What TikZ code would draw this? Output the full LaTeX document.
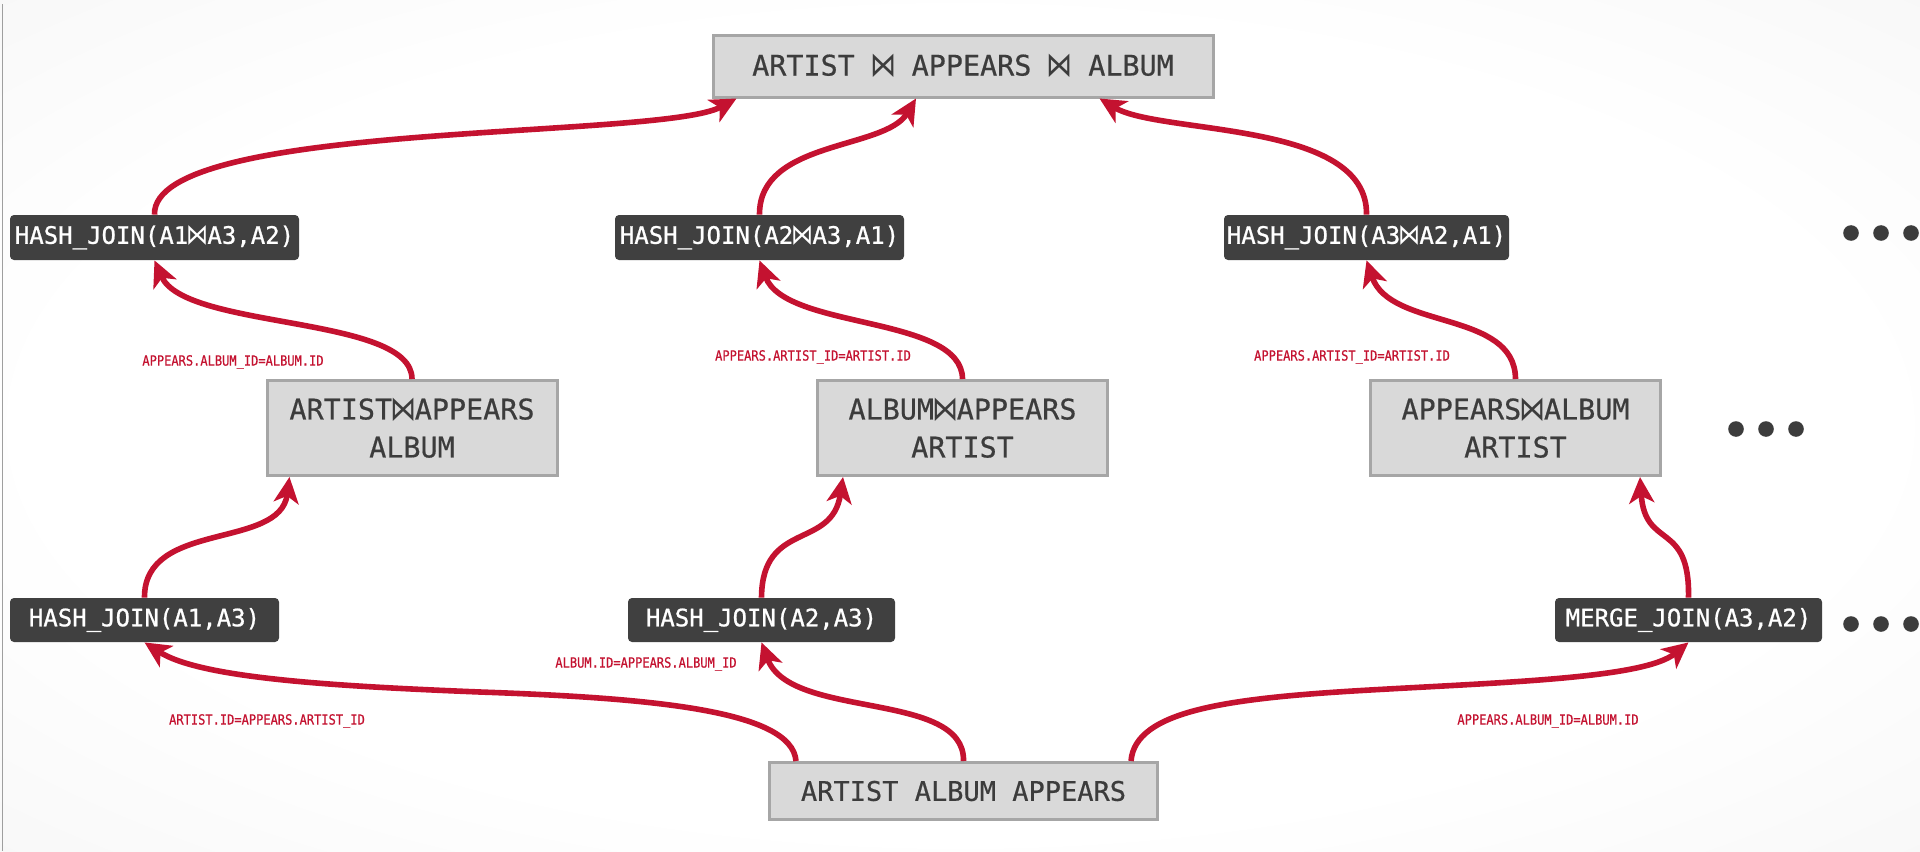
\documentclass[tikz,border=0pt]{standalone}
\usepackage{fontspec}
\usepackage{graphicx}
\usetikzlibrary{arrows.meta,calc}

\newfontfamily\monof[FakeBold=0.5]{DejaVu Sans Mono}
\newfontfamily\opf[FakeBold=0.9]{DejaVu Sans Mono}
\newfontfamily\lblf[FakeStretch=0.86,FakeBold=0.6]{DejaVu Sans Mono}
\newfontfamily\symf{DejaVu Sans}
% join symbol, sized to roughly one monospace cell at cap height
\newcommand\bt{{\symf\kern-0.06em\raisebox{-0.04em}{\scalebox{0.92}[1.2]{⋈}}\kern-0.06em}}

\definecolor{cmured}{HTML}{C41230}
\definecolor{boxgray}{HTML}{D9D9D9}
\definecolor{boxline}{HTML}{A6A6A6}
\definecolor{inkgray}{HTML}{3C3C3C}
\definecolor{darkbox}{HTML}{404040}

\pgfdeclareradialshading{pagebg}{\pgfpoint{0bp}{0bp}}{%
  color(0bp)=(white); color(24bp)=(white); color(50bp)=(black!6); color(72bp)=(black!9)}

\tikzset{
  darkop/.style={fill=darkbox, text=white, rounded corners=2pt, inner sep=0pt,
    minimum height=22.5pt, font=\opf\fontsize{12pt}{14pt}\selectfont},
  relbox/.style={fill=boxgray, draw=boxline, line width=1.5pt, inner sep=0pt,
    text=inkgray, align=center, font=\monof\fontsize{14.2pt}{19pt}\selectfont},
  cond/.style={text=cmured, inner sep=0pt, font=\lblf\fontsize{7pt}{8pt}\selectfont},
  conn/.style={draw=cmured, line width=2.8pt,
    -{Stealth[length=13pt,width=12.5pt,inset=3.5pt]}},
  contdot/.style={fill=inkgray}
}

\begin{document}
\begin{tikzpicture}[x=0.5pt, y=-0.5pt]
  \useasboundingbox (0,0) rectangle (1920,851);
  % page background and left rule
  \shade[shading=pagebg] (0,0) rectangle (1920,851);
  \draw[gray!75, line width=0.6pt] (2.5,4) -- (2.5,851);

  % final result
  \node[relbox, minimum width=250pt, minimum height=31pt] (top) at (963,66)
    {ARTIST \bt{} APPEARS \bt{} ALBUM};

  % second-level joins
  \node[darkop, minimum width=144.5pt] (d1) at (154.5,237.5) {HASH\_JOIN(A1\bt A3,A2)};
  \node[darkop, minimum width=144.5pt] (d2) at (759.5,237.5) {HASH\_JOIN(A2\bt A3,A1)};
  \node[darkop, minimum width=142.5pt] (d3) at (1366.5,237.5) {HASH\_JOIN(A3\bt A2,A1)};

  % intermediate relations
  \node[relbox, minimum width=145pt, minimum height=47.5pt] (gL) at (412,428)
    {ARTIST\bt APPEARS\\ALBUM};
  \node[relbox, minimum width=145pt, minimum height=47.5pt] (gM) at (962.5,428)
    {ALBUM\bt APPEARS\\ARTIST};
  \node[relbox, minimum width=145pt, minimum height=47.5pt] (gR) at (1515.5,428)
    {APPEARS\bt ALBUM\\ARTIST};

  % first-level joins
  \node[darkop, minimum width=134.5pt, minimum height=22pt] (dL) at (144.5,620) {HASH\_JOIN(A1,A3)};
  \node[darkop, minimum width=133.5pt, minimum height=22pt] (dM) at (761.5,620) {HASH\_JOIN(A2,A3)};
  \node[darkop, minimum width=133.5pt, minimum height=22pt] (dR) at (1688.5,620) {MERGE\_JOIN(A3,A2)};

  % base relations
  \node[relbox, minimum width=194pt, minimum height=28.5pt,
    font=\monof\fontsize{13.5pt}{16pt}\selectfont] (bot) at (963.5,791)
    {ARTIST ALBUM APPEARS};

  % join predicates
  \node[cond] (p1) at (233,362) {APPEARS.ALBUM\_ID=ALBUM.ID};
  \node[cond] (p2) at (813,357) {APPEARS.ARTIST\_ID=ARTIST.ID};
  \node[cond] (p3) at (1352,357) {APPEARS.ARTIST\_ID=ARTIST.ID};
  \node[cond] (p4) at (646,664) {ALBUM.ID=APPEARS.ALBUM\_ID};
  \node[cond] (p5) at (267,721) {ARTIST.ID=APPEARS.ARTIST\_ID};
  \node[cond] (p6) at (1548,721) {APPEARS.ALBUM\_ID=ALBUM.ID};

  % more alternatives
  \foreach \y/\x in {233/1851, 429/1736, 624/1851} {
    \fill[contdot] (\x,\y) circle[radius=3.9pt];
    \fill[contdot] (\x+30,\y) circle[radius=3.9pt];
    \fill[contdot] (\x+60,\y) circle[radius=3.9pt];
  }

  % upper connectors
  \draw[conn] (d1.north) .. controls (152,120) and (660,140) .. ($(top.south west)+(25,0)$);
  \draw[conn] (d2.north) .. controls (759,140) and (885,150) .. ($(top.south)+(-47,0)$);
  \draw[conn] (d3.north) .. controls (1368,120) and (1160,135) .. ($(top.south east)+(-115,0)$);

  % middle connectors
  \draw[conn] (gL.north) .. controls (412,315) and (185,330) .. (d1.south);
  \draw[conn] (gM.north) .. controls (962,315) and (785,330) .. (d2.south);
  \draw[conn] (gR.north) .. controls (1515,310) and (1390,330) .. (d3.south);

  % lower connectors
  \draw[conn] (dL.north) .. controls (144,520) and (280,550) .. ($(gL.south west)+(24,0)$);
  \draw[conn] (dM.north) .. controls (762,520) and (832,550) .. ($(gM.south west)+(27,0)$);
  \draw[conn] (dR.north) .. controls (1690,520) and (1645,550) .. ($(gR.south east)+(-22,0)$);

  % connectors from the base relations
  \draw[conn] ($(bot.north west)+(28,0)$) .. controls (792,710) and (650,698) .. (480,692)
    .. controls (330,686) and (200,678) .. (dL.south);
  \draw[conn] (bot.north) .. controls (965,690) and (790,720) .. (dM.south);
  \draw[conn] ($(bot.north east)+(-28,0)$) .. controls (1135,710) and (1230,698) .. (1370,690)
    .. controls (1510,682) and (1645,678) .. (dR.south);
\end{tikzpicture}
\end{document}
